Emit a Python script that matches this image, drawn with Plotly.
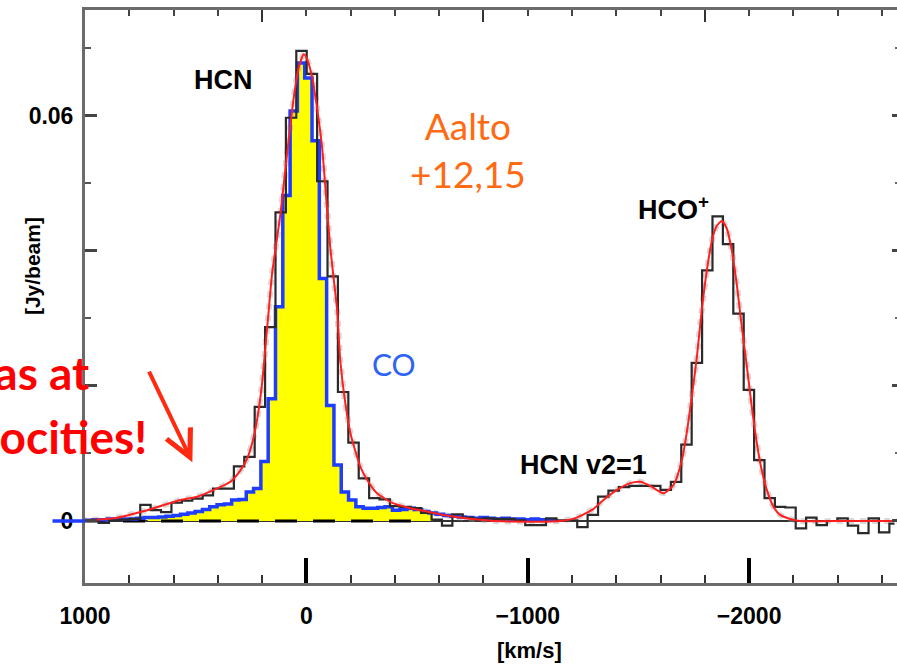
import plotly.graph_objects as go

# ---------------- data ----------------
# HCN / HCO+ observed spectrum (black histogram): channel centres [km/s] and flux [Jy/beam]
spec_v = [1009, 962, 915, 868, 821, 774, 727, 680, 633, 586,
          539, 492, 445, 398, 351, 304, 257, 210, 163, 116,
          69, 22, -25, -72, -119, -166, -213, -260, -307, -354,
          -401, -448, -495, -542, -589, -636, -683, -730, -777, -824,
          -871, -918, -965, -1012, -1059, -1106, -1153, -1200, -1247, -1294,
          -1341, -1388, -1435, -1482, -1529, -1576, -1623, -1670, -1717, -1764,
          -1811, -1858, -1905, -1952, -1999, -2046, -2093, -2140, -2187, -2234,
          -2281, -2328, -2375, -2422, -2469, -2516, -2563, -2610, -2657]
spec_f = [0.0001, 0.0001, -0.0003, 0.0001, 0.0002, 0.0003, 0.0024, 0.0016, 0.0013, 0.0027,
          0.0030, 0.0033, 0.0038, 0.0048, 0.0048, 0.0081, 0.0095, 0.0169, 0.0287, 0.0457,
          0.0597, 0.0696, 0.0662, 0.0503, 0.0362, 0.0191, 0.0116, 0.0063, 0.0034, 0.0032,
          0.0022, 0.0021, 0.0019, 0.0012, 0.0002, -0.0007, 0.0010, 0.0005, 0.0003, 0.0004,
          0.0003, 0.0003, 0.0001, -0.0006, -0.0006, 0.0004, 0.0001, 0.0001, -0.0009, 0.0009,
          0.0036, 0.0045, 0.0050, 0.0052, 0.0052, 0.0052, 0.0046, 0.0058, 0.0113, 0.0234,
          0.0371, 0.0451, 0.0410, 0.0307, 0.0194, 0.0090, 0.0034, 0.0021, 0.0020, -0.0011,
          0.0005, -0.0006, 0.0000, 0.0004, -0.0007, -0.0018, 0.0004, -0.0017, -0.0004]

# CO spectrum (blue histogram, scaled)
co_v = [1014, 981, 948, 915, 882, 849, 816, 783, 750, 717,
        684, 651, 618, 585, 552, 519, 486, 453, 420, 387,
        354, 321, 288, 255, 222, 189, 156, 123, 90, 57,
        24, -9, -42, -75, -108, -141, -174, -207, -240, -273,
        -306, -339, -372, -405, -438, -471, -504, -537, -570, -603,
        -636, -669, -702, -735, -768, -801, -834, -867, -900, -933,
        -966, -999, -1032, -1065, -1098, -1131]
co_f = [0.0001, 0.0001, 0.0002, 0.0002, 0.0003, 0.0003, 0.0003, 0.0003, 0.0004, 0.0005,
        0.0005, 0.0006, 0.0007, 0.0008, 0.0010, 0.0012, 0.0014, 0.0017, 0.0021, 0.0024,
        0.0025, 0.0031, 0.0032, 0.0043, 0.0048, 0.0088, 0.0181, 0.0317, 0.0482, 0.0607,
        0.0678, 0.0656, 0.0563, 0.0359, 0.0171, 0.0083, 0.0043, 0.0031, 0.0021, 0.0019,
        0.0019, 0.0020, 0.0021, 0.0016, 0.0017, 0.0019, 0.0017, 0.0014, 0.0012, 0.0010,
        0.0008, 0.0007, 0.0006, 0.0005, 0.0004, 0.0005, 0.0004, 0.0003, 0.0004, 0.0003,
        0.0003, 0.0002, 0.0003, 0.0002, 0.0002, 0.0001]
co_fill_range = [717, -570]          # velocity span of the yellow CO fill
co_baseline_v = [1000, -482]          # dashed CO zero level

# Multi-component fit (red curve)
fit_v = [1020, 871, 719, 569, 493, 418, 343, 298, 268, 245,
         223, 200, 185, 170, 155, 117, 87, 57, 35, 12,
         -3, -26, -48, -71, -93, -108, -123, -139, -153, -176,
         -199, -229, -244, -274, -319, -394, -470, -545, -620, -695,
         -846, -996, -1147, -1222, -1297, -1342, -1403, -1463, -1508, -1553,
         -1613, -1658, -1695, -1718, -1741, -1764, -1786, -1809, -1832, -1854,
         -1877, -1899, -1922, -1944, -1967, -1990, -2012, -2035, -2057, -2080,
         -2110, -2140, -2185, -2230, -2456, -2670]
fit_f = [0.0001, 0.0004, 0.0016, 0.0031, 0.0036, 0.0046, 0.0058, 0.0075, 0.0092, 0.0115,
         0.0149, 0.0204, 0.0258, 0.0312, 0.0366, 0.0455, 0.0544, 0.0627, 0.0671, 0.0691,
         0.0684, 0.0657, 0.0612, 0.0553, 0.0464, 0.0405, 0.0360, 0.0312, 0.0238, 0.0174,
         0.0130, 0.0095, 0.0080, 0.0061, 0.0041, 0.0026, 0.0019, 0.0014, 0.0009, 0.0005,
         0.0000, -0.0001, 0.0000, 0.0005, 0.0018, 0.0031, 0.0046, 0.0056, 0.0058, 0.0052,
         0.0041, 0.0053, 0.0088, 0.0130, 0.0184, 0.0243, 0.0312, 0.0371, 0.0415, 0.0437,
         0.0444, 0.0433, 0.0400, 0.0351, 0.0287, 0.0228, 0.0169, 0.0115, 0.0075, 0.0046,
         0.0021, 0.0009, 0.0003, 0.0000, 0.0000, 0.0000]

x_tick_vals = [1000, 0, -1000, -2000]
x_tick_text = ["1000", "0", "\u22121000", "\u22122000"]
top_tick_vals = [200, -800, -1800]
y_label_vals = [0, 0.06]
y_label_text = ["0", "0.06"]
y_unlabelled_vals = [0.02, 0.04]
y_major_vals = [0, 0.02, 0.04, 0.06]
x_range = [1000, -2668]
y_range = [-0.00918, 0.07565]

assert len(spec_v) == len(spec_f)
assert len(co_v) == len(co_f)
assert len(fit_v) == len(fit_f)

co_fill_pairs = [(v, f) for v, f in zip(co_v, co_f) if co_fill_range[1] <= v <= co_fill_range[0]]
co_fill_v = [p[0] for p in co_fill_pairs]
co_fill_f = [p[1] for p in co_fill_pairs]

# ---------------- figure ----------------
fig = go.Figure()

fig.add_trace(go.Scatter(x=co_fill_v, y=co_fill_f, mode="lines",
                         line=dict(width=0, shape="hvh"), fill="tozeroy",
                         fillcolor="#FFFF00", hoverinfo="skip", showlegend=False))
fig.add_trace(go.Scatter(x=co_baseline_v, y=[0, 0], mode="lines",
                         line=dict(color="black", width=3, dash="22px,16px"),
                         hoverinfo="skip", showlegend=False))
fig.add_trace(go.Scatter(x=fit_v, y=fit_f, mode="lines",
                         line=dict(color="rgba(160,160,160,0.4)", width=6, dash="dot",
                                   shape="spline", smoothing=0.6),
                         hoverinfo="skip", showlegend=False))
fig.add_trace(go.Scatter(x=co_v, y=co_f, mode="lines",
                         line=dict(color="#1F3DFF", width=3.5, shape="hvh"),
                         name="CO", showlegend=False))
fig.add_trace(go.Scatter(x=spec_v, y=spec_f, mode="lines",
                         line=dict(color="#2a2a2a", width=2.2, shape="hvh"),
                         name="HCN/HCO+", showlegend=False))
fig.add_trace(go.Scatter(x=fit_v, y=fit_f, mode="lines",
                         line=dict(color="#FF1F1F", width=2, shape="spline", smoothing=0.6),
                         name="fit", showlegend=False))
# empty traces so the extra tick-only axes are drawn
fig.add_trace(go.Scatter(x=[], y=[], xaxis="x2", yaxis="y2", showlegend=False))
fig.add_trace(go.Scatter(x=[], y=[], xaxis="x", yaxis="y3", showlegend=False))

tick_font = dict(family="Liberation Sans, Arial, sans-serif", size=23, color="black", weight="bold")
axis_col = "#6b6b6b"

fig.update_layout(
    width=897, height=664,
    margin=dict(l=85, r=0, t=10, b=81),
    paper_bgcolor="white", plot_bgcolor="white",
    showlegend=False,
    xaxis=dict(range=x_range, showline=True, linecolor=axis_col, linewidth=3, mirror=False,
               showgrid=False, zeroline=False,
               tickmode="array", tickvals=x_tick_vals, ticktext=x_tick_text,
               ticks="inside", ticklen=25, tickwidth=3.5, tickcolor="black",
               tickfont=tick_font, ticklabelstandoff=10,
               minor=dict(tickmode="linear", tick0=0, dtick=200, ticks="inside",
                          ticklen=8, tickwidth=1.5, tickcolor="#333")),
    xaxis2=dict(range=x_range, overlaying="x", side="top", anchor="y",
                showline=True, linecolor=axis_col, linewidth=3,
                showgrid=False, zeroline=False, showticklabels=False,
                tickmode="array", tickvals=top_tick_vals,
                ticks="inside", ticklen=12, tickwidth=2, tickcolor="#333",
                minor=dict(tickmode="linear", tick0=0, dtick=200, ticks="inside",
                           ticklen=6, tickwidth=1.5, tickcolor="#444")),
    yaxis=dict(range=y_range, showline=True, linecolor=axis_col, linewidth=3, mirror=False,
               showgrid=False, zeroline=True, zerolinecolor="#333", zerolinewidth=1.5,
               tickmode="array", tickvals=y_label_vals, ticktext=y_label_text,
               ticks="inside", ticklen=12, tickwidth=2.5, tickcolor="#444",
               tickfont=tick_font, ticklabelstandoff=4,
               minor=dict(tickmode="linear", tick0=0, dtick=0.01, ticks="inside",
                          ticklen=6, tickwidth=1.5, tickcolor="#555")),
    yaxis3=dict(range=y_range, overlaying="y", side="left", anchor="x",
                showline=False, showgrid=False, zeroline=False, showticklabels=False,
                tickmode="array", tickvals=y_unlabelled_vals,
                ticks="inside", ticklen=12, tickwidth=2.5, tickcolor="#444"),
    yaxis2=dict(range=y_range, overlaying="y", side="right", anchor="x",
                showline=False, showgrid=False, zeroline=False, showticklabels=False,
                tickmode="array", tickvals=y_major_vals,
                ticks="inside", ticklen=5, tickwidth=2.5, tickcolor="#444",
                minor=dict(tickmode="linear", tick0=0, dtick=0.01, ticks="inside",
                           ticklen=2, tickwidth=1.5, tickcolor="#666")),
)

bold_font = dict(family="Liberation Sans, Arial, sans-serif", color="black", weight="bold")


def label(text, x, y, font, xanchor="center", **kw):
    return dict(text=text, xref="paper", yref="paper", x=x, y=y, xanchor=xanchor,
                yanchor="middle", showarrow=False, font=font, **kw)


ann = [
    label("HCN", 0.170, 0.878, dict(**bold_font, size=27)),
    label("HCO<sup>+</sup>", 0.679, 0.655, dict(**bold_font, size=27), xanchor="left"),
    label("HCN v2=1", 0.533, 0.206, dict(**bold_font, size=27), xanchor="left"),
    label("Aalto<br>+12,15", 0.4717, 0.757,
          dict(family="Lato, Open Sans, sans-serif", size=37, color="#FF6A13")),
    label("CO", 0.3805, 0.382,
          dict(family="Lato, Open Sans, sans-serif", size=30, color="#2F63F5")),
    label("[km/s]", 0.548, -0.117, dict(**bold_font, size=22)),
    label("[Jy/beam]", -0.0653, 0.553, dict(**bold_font, size=21), textangle=-90),
    label("Gas at", 0.008, 0.368,
          dict(family="Lato, sans-serif", size=46, color="#FF0000", weight="bold"),
          xanchor="right"),
    label("velocities!", 0.079, 0.2565,
          dict(family="Lato, sans-serif", size=46, color="#FF0000", weight="bold"),
          xanchor="right"),
    dict(text="", x=515, y=0.0087, xref="x", yref="y", ax=-44, ay=-92,
         showarrow=True, arrowhead=5, arrowsize=1.3, arrowwidth=4,
         arrowcolor="#FF2A10", standoff=0),
]
fig.update_layout(annotations=ann)

# CO baseline stub running past the left axis
fig.add_shape(type="line", xref="paper", yref="y", x0=-0.04, x1=0, y0=0, y1=0,
              line=dict(color="#1F3DFF", width=3.5))

fig.write_html("out.html")
